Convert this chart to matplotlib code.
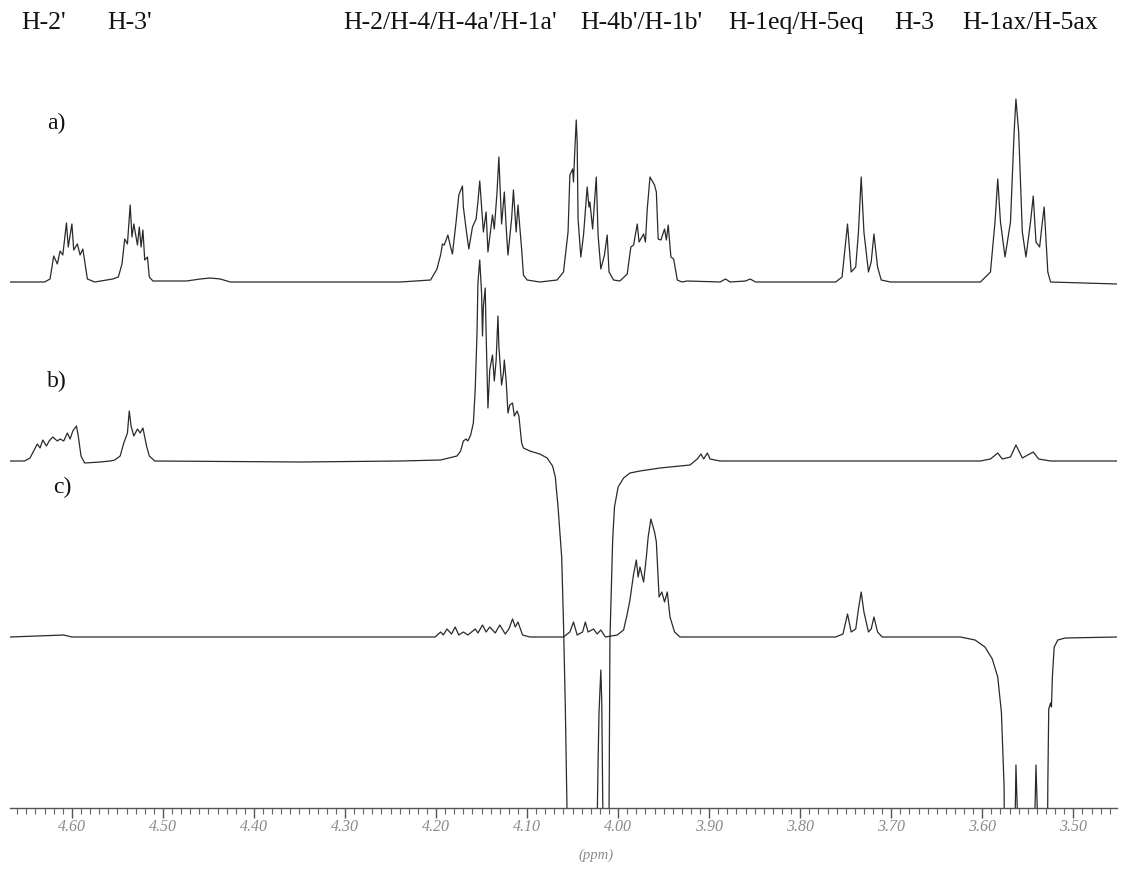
import matplotlib
matplotlib.use("Agg")
import matplotlib.pyplot as plt
from matplotlib.ticker import MultipleLocator, FormatStrFormatter

# ---------------- data (ppm, intensity) ----------------
a_ppm = [4.668, 4.630, 4.624, 4.620, 4.616, 4.613, 4.610, 4.606, 4.604, 4.600, 4.598, 4.594, 4.591, 4.588, 4.583, 4.575,
         4.555, 4.549, 4.545, 4.542, 4.539, 4.536, 4.534, 4.532, 4.528, 4.526, 4.524, 4.522, 4.520, 4.517, 4.515, 4.511,
         4.474, 4.459, 4.448, 4.437, 4.426, 4.349, 4.239,
         4.206, 4.199, 4.195, 4.193, 4.191, 4.187, 4.184, 4.182, 4.178, 4.175, 4.171, 4.170, 4.167, 4.164, 4.160, 4.156,
         4.154, 4.152, 4.148, 4.145, 4.143, 4.138, 4.136, 4.133, 4.131, 4.128, 4.125, 4.123, 4.121, 4.117, 4.115, 4.112,
         4.110, 4.106, 4.104, 4.100, 4.086, 4.067, 4.060, 4.055, 4.053, 4.050, 4.049, 4.048, 4.046, 4.045, 4.044, 4.041,
         4.038, 4.034, 4.032, 4.031, 4.028, 4.024, 4.022, 4.019, 4.015, 4.012, 4.010, 4.005, 3.998, 3.990, 3.986, 3.983,
         3.979, 3.977, 3.972, 3.970, 3.968, 3.965, 3.960, 3.958, 3.956, 3.953, 3.949, 3.947, 3.945, 3.942, 3.939, 3.935,
         3.930, 3.924, 3.888, 3.882, 3.877, 3.860, 3.855, 3.849,
         3.761, 3.754, 3.748, 3.744, 3.739, 3.736, 3.733, 3.730, 3.725, 3.722, 3.719, 3.715, 3.711, 3.701,
         3.602, 3.591, 3.586, 3.583, 3.580, 3.575, 3.569, 3.565, 3.563, 3.560, 3.556, 3.552, 3.547, 3.544, 3.541, 3.537,
         3.534, 3.532, 3.528, 3.525, 3.452]
a_int = [0, 0, 3, 26, 18, 31, 27, 59, 35, 58, 32, 38, 27, 33, 3, 0,
         3, 5, 18, 43, 38, 77, 45, 58, 37, 55, 35, 52, 22, 25, 5, 1,
         1, 3, 4, 3, 0, 0, 0,
         2, 13, 27, 38, 37, 47, 35, 28, 60, 87, 96, 75, 53, 33, 55, 63,
         80, 101, 50, 70, 30, 67, 53, 90, 125, 58, 90, 55, 27, 63, 92, 50,
         77, 33, 7, 2, 0, 2, 10, 50, 107, 113, 100, 123, 162, 140, 63, 25,
         47, 95, 75, 80, 53, 105, 47, 13, 27, 47, 10, 2, 1, 8, 35, 37,
         58, 40, 48, 40, 73, 105, 97, 90, 43, 42, 53, 42, 57, 25, 23, 2,
         0, 1, 0, 3, 0, 1, 3, 0,
         0, 5, 58, 10, 15, 50, 105, 50, 10, 20, 48, 15, 2, 0,
         0, 10, 60, 103, 60, 25, 60, 150, 183, 150, 50, 25, 60, 86, 40, 35,
         60, 75, 10, 0, -2]

b_ppm = [4.668, 4.652, 4.646, 4.642, 4.638, 4.635, 4.632, 4.628, 4.625, 4.621, 4.616, 4.613, 4.609, 4.605, 4.602,
         4.599, 4.595, 4.593, 4.590, 4.586, 4.569,
         4.558, 4.553, 4.547, 4.543, 4.539, 4.537, 4.535, 4.532, 4.528, 4.525, 4.522, 4.518, 4.515, 4.509,
         4.349, 4.239, 4.195,
         4.177, 4.173, 4.170, 4.167, 4.165, 4.162, 4.159, 4.157, 4.155, 4.154, 4.152, 4.150, 4.149, 4.148, 4.146,
         4.145, 4.143, 4.141, 4.138, 4.136, 4.134, 4.132, 4.131, 4.128, 4.126, 4.125, 4.123, 4.121, 4.119, 4.116,
         4.114, 4.111, 4.109, 4.106, 4.104, 4.097, 4.086, 4.078, 4.072, 4.069, 4.066, 4.062, 4.060, 4.058, 4.056,
         4.053, 4.031, 4.024, 4.022, 4.021, 4.019, 4.018, 4.017, 4.014, 4.012, 4.010, 4.009, 4.006, 4.004, 4.000,
         3.994, 3.987, 3.976, 3.954, 3.921, 3.913, 3.909, 3.906, 3.902, 3.899, 3.888,
         3.602, 3.591, 3.583, 3.578, 3.569, 3.563, 3.556, 3.544, 3.538, 3.525, 3.452]
b_int = [0, 0, 3, 10, 17, 13, 21, 15, 20, 24, 20, 22, 20, 28, 22,
         30, 35, 25, 5, -2, -1,
         0, 1, 5, 18, 28, 50, 35, 25, 32, 28, 33, 15, 5, 0,
         -1, 0, 1,
         5, 10, 20, 22, 20, 26, 38, 71, 128, 178, 201, 168, 125, 155, 173,
         128, 53, 91, 106, 80, 101, 145, 115, 76, 88, 101, 80, 48, 56, 58,
         45, 50, 45, 18, 13, 10, 7, 3, -5, -16, -46, -96, -162, -246, -357,
         -600, -600, -420, -300, -252, -209, -240, -330, -600, -600, -355, -179, -79, -46, -26,
         -17, -12, -10, -7, -4, 2, 7, 2, 8, 2, 0,
         0, 2, 8, 2, 4, 16, 3, 9, 2, 0, 0]

c_ppm = [4.668, 4.609, 4.600, 4.349,
         4.201, 4.195, 4.192, 4.188, 4.183, 4.179, 4.175, 4.170, 4.165, 4.157, 4.154, 4.149, 4.145, 4.141, 4.135,
         4.130, 4.124, 4.120, 4.116, 4.113, 4.110, 4.105, 4.097,
         4.060, 4.053, 4.049, 4.045, 4.039, 4.036, 4.033, 4.027, 4.023, 4.019, 4.014, 4.001, 3.994, 3.990, 3.987,
         3.983, 3.980, 3.978, 3.976, 3.972, 3.969, 3.967, 3.964, 3.960, 3.958, 3.955, 3.952, 3.949, 3.946, 3.943,
         3.938, 3.932,
         3.761, 3.753, 3.748, 3.744, 3.739, 3.736, 3.733, 3.730, 3.725, 3.722, 3.719, 3.715, 3.710,
         3.624, 3.608, 3.597, 3.589, 3.583, 3.579, 3.576, 3.574, 3.567, 3.565, 3.563, 3.560, 3.559, 3.546, 3.544,
         3.541, 3.538, 3.537, 3.531, 3.528, 3.527, 3.525, 3.524, 3.523, 3.521, 3.517, 3.509, 3.452]
c_int = [0, 2, 0, 0,
         0, 5, 2, 8, 3, 10, 2, 5, 2, 8, 4, 12, 5, 10, 4,
         12, 3, 8, 18, 10, 15, 2, 0,
         0, 5, 15, 2, 5, 15, 5, 8, 3, 7, 0, 2, 7, 23, 37,
         63, 77, 60, 70, 55, 80, 100, 118, 105, 95, 40, 45, 35, 45, 20,
         5, 0,
         0, 3, 23, 5, 8, 28, 45, 25, 5, 8, 20, 5, 0,
         0, -3, -10, -22, -40, -75, -150, -600, -600, -250, -128, -220, -600, -600, -250,
         -128, -220, -600, -600, -150, -72, -66, -70, -40, -10, -3, -1, 0]

trace_labels = ["a)", "b)", "c)"]
header_labels = ["H-2'", "H-3'", "H-2/H-4/H-4a'/H-1a'", "H-4b'/H-1b'", "H-1eq/H-5eq", "H-3", "H-1ax/H-5ax"]
ppm_major = [4.60, 4.50, 4.40, 4.30, 4.20, 4.10, 4.00, 3.90, 3.80, 3.70, 3.60, 3.50]

# ---------------- figure ----------------
W, H = 1121, 874
fig = plt.figure(figsize=(W / 100, H / 100), dpi=100)
fig.patch.set_facecolor("white")

ax_bottom_px, ax_top_px = 808, 60
ax = fig.add_axes([10 / W, (H - ax_bottom_px) / H, 1107 / W, (ax_bottom_px - ax_top_px) / H])
ax.set_xlim(4.668, 3.452)
ax.set_ylim(0, ax_bottom_px - ax_top_px)

offsets = [808 - 282, 808 - 461, 808 - 637]
line_kw = dict(color="#2a2a2a", lw=0.9, solid_joinstyle="round")
for xs, ys, off in zip([a_ppm, b_ppm, c_ppm], [a_int, b_int, c_int], offsets):
    ax.plot(xs, [v + off for v in ys], **line_kw)

for s in ["top", "left", "right"]:
    ax.spines[s].set_visible(False)
ax.spines["bottom"].set_color("#555555")
ax.spines["bottom"].set_linewidth(1.0)
ax.set_yticks([])
ax.set_xticks(ppm_major)
ax.xaxis.set_major_formatter(FormatStrFormatter("%.2f"))
ax.xaxis.set_minor_locator(MultipleLocator(0.01))
ax.tick_params(axis="x", which="major", direction="out", length=7, width=1.0, color="#555555",
               labelsize=11.5, labelcolor="#8a8a8a", pad=1)
ax.tick_params(axis="x", which="minor", direction="out", length=4, width=0.8, color="#666666")
for lab in ax.get_xticklabels():
    lab.set_fontfamily("Liberation Serif")
    lab.set_fontstyle("italic")

fig.text(578 / W, 1 - 855 / H, "(ppm)", fontsize=10.5, fontfamily="Liberation Serif",
         fontstyle="italic", color="#8a8a8a", ha="left", va="center")

hdr_x = [21, 107, 343, 580, 728, 894, 962]
for t, x in zip(header_labels, hdr_x):
    fig.text(x / W, 1 - 23 / H, t, fontsize=18.5, fontfamily="Liberation Serif", color="#111111",
             ha="left", va="center")

lab_pos = [(47, 123), (47, 381), (53, 487)]
for t, (x, y) in zip(trace_labels, lab_pos):
    fig.text(x / W, 1 - y / H, t, fontsize=17, fontfamily="Liberation Serif", color="#111111",
             ha="left", va="center")

fig.savefig("out.png", dpi=100, facecolor="white")
